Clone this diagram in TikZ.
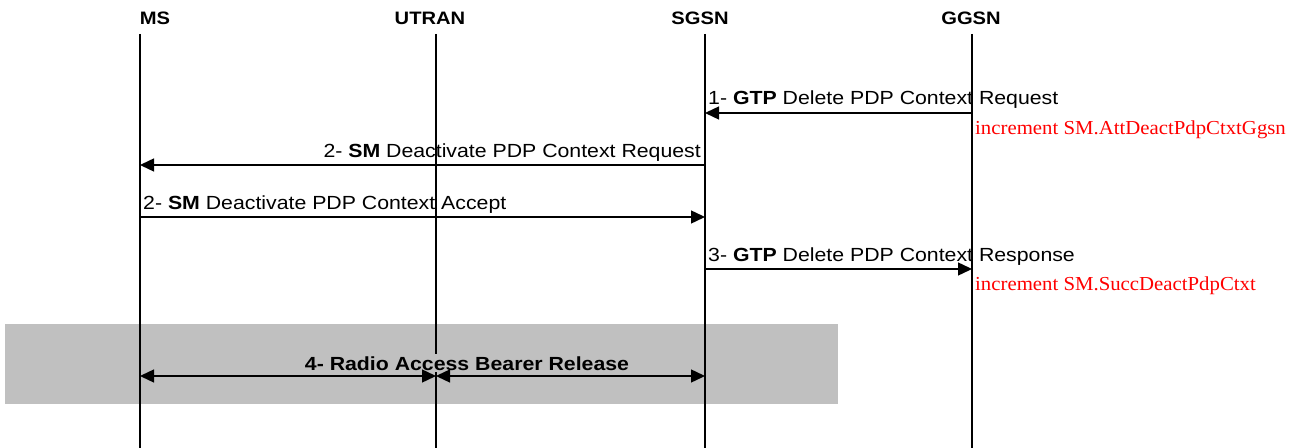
\documentclass[tikz,border=0pt]{standalone}
\usepackage{fontspec}
\setmainfont[FakeStretch=1.12]{Liberation Sans}
\newfontfamily\cntfont[FakeStretch=1.05]{Liberation Serif}
\usetikzlibrary{arrows.meta}
\definecolor{bargray}{RGB}{192,192,192}
\definecolor{cntred}{RGB}{255,0,0}

\begin{document}
\begin{tikzpicture}[x=1bp,y=-1bp,
      every node/.style={inner sep=0pt,font=\fontsize{19bp}{22bp}\selectfont},
      entity/.style={font=\fontsize{18bp}{21bp}\selectfont\bfseries},
      lifeline/.style={line width=2.8bp},
      msg/.style={line width=1.4bp,-{Triangle[length=14bp,width=13bp]}},
      bothmsg/.style={line width=1.4bp,{Triangle[length=14bp,width=13bp]}-{Triangle[length=14bp,width=13bp]}},
      counter/.style={text=cntred,font=\cntfont\fontsize{19.8bp}{23bp}\selectfont}]

  \useasboundingbox (0,0) rectangle (1306,448);

  % entities and their lifelines
  \node[entity,anchor=base] (ms) at (155,25) {MS};
  \node[entity,anchor=base] (utran) at (430,25) {UTRAN};
  \node[entity,anchor=base] (sgsn) at (700,25) {SGSN};
  \node[entity,anchor=base] (ggsn) at (971,25) {GGSN};
  \foreach \n/\x in {ms/140,utran/436,sgsn/705,ggsn/972} {
    \coordinate (\n-top) at (\x,34);
    \coordinate (\n-bot) at (\x,448);
  }
  \foreach \r/\y in {1/113,2/165,3/217,4/269,5/376}
    \coordinate (row\r) at (0,\y);

  \fill[bargray] (5,324) rectangle (838,404);
  \foreach \n in {ms,utran,sgsn,ggsn}
    \draw[lifeline] (\n-top) -- (\n-bot);

  % messages
  \node[anchor=base west] (del-req) at (708,105) {1- \textbf{GTP} Delete PDP Context Request};
  \node[counter,anchor=base west] (cnt-att) at (975,135) {increment SM.AttDeactPdpCtxtGgsn};
  \draw[msg] (ggsn-top |- row1) -- (sgsn-top |- row1);

  \node[anchor=base east] (deact-req) at (701,158) {2- \textbf{SM} Deactivate PDP Context Request};
  \draw[msg] (sgsn-top |- row2) -- (ms-top |- row2);

  \node[anchor=base west] (deact-acc) at (143,210) {2- \textbf{SM} Deactivate PDP Context Accept};
  \draw[msg] (ms-top |- row3) -- (sgsn-top |- row3);

  \node[anchor=base west] (del-resp) at (708,262) {3- \textbf{GTP} Delete PDP Context Response};
  \node[counter,anchor=base west] (cnt-succ) at (975,291) {increment SM.SuccDeactPdpCtxt};
  \draw[msg] (sgsn-top |- row4) -- (ggsn-top |- row4);

  % bearer release
  \node[fill=bargray,inner ysep=2bp,anchor=base,font=\fontsize{19bp}{22bp}\selectfont\bfseries] (rab) at (467,370) {4- Radio Access Bearer Release};
  \draw[bothmsg] (ms-top |- row5) -- (utran-top |- row5);
  \draw[bothmsg] (utran-top |- row5) -- (sgsn-top |- row5);
\end{tikzpicture}
\end{document}
